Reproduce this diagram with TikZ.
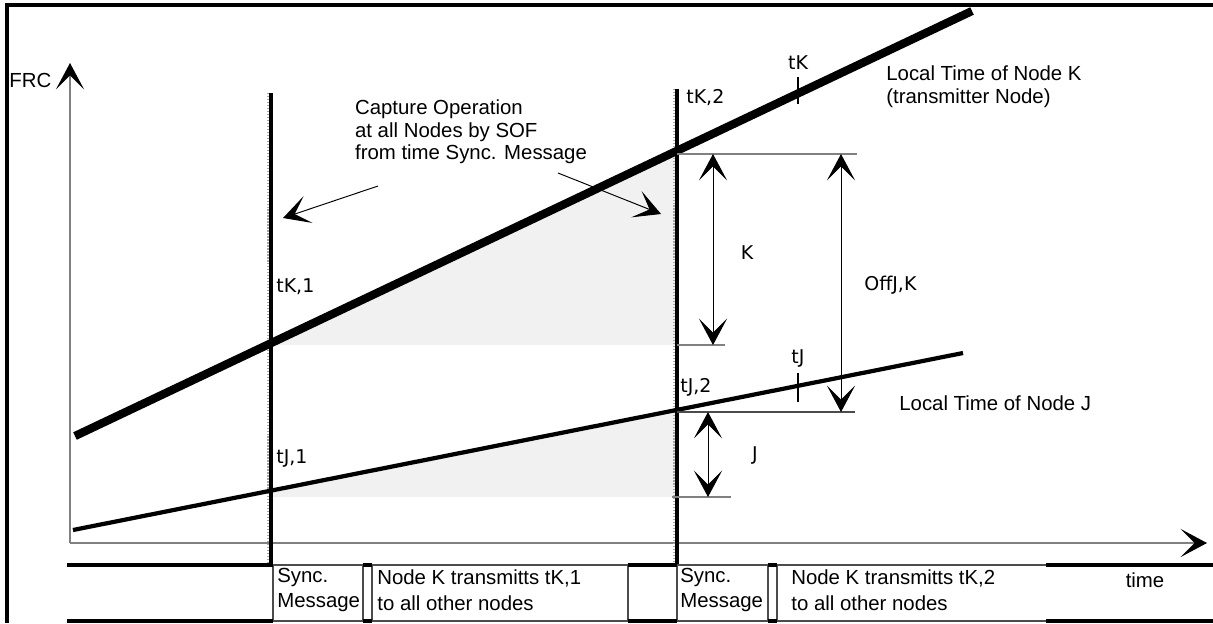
\documentclass[tikz,border=0pt]{standalone}
\usepackage{fontspec}
\setmainfont{Liberation Sans}
\newfontfamily\labelfont{DejaVu Sans}
\usetikzlibrary{arrows.meta}
\usetikzlibrary{positioning}

\definecolor{axisgray}{RGB}{128,128,128}
\definecolor{shadegray}{RGB}{241,241,241}

\tikzset{
  % the large notched arrow head used all over the drawing
  big head/.tip = {Stealth[length=15pt, width=16pt, inset=8pt, color=black]},
  frame line/.style = {
    draw = black,
    line width = 2.4pt
  },
  axis/.style = {
    draw = axisgray,
    line width = 0.8pt,
    -{big head}
  },
  % vertical line at a sync. message
  sync line/.style = {
    draw = black,
    line width = 2.1pt
  },
  sync shadow/.style = {
    draw = axisgray!70,
    line width = 0.7pt,
    densely dotted
  },
  % local clock of a node
  clock K/.style = {
    draw = black,
    line width = 4.7pt
  },
  clock J/.style = {
    draw = black,
    line width = 2.4pt
  },
  tick/.style = {
    draw = black,
    line width = 1.3pt
  },
  shade area/.style = {
    fill = shadegray
  }
}
\tikzset {
  % helper lines for the offsets
  dim line/.style = {
    draw = axisgray,
    line width = 0.8pt
  },
  % path style with a head at both ends
  dim arrow/.style = {
    draw = black,
    line width = 0.55pt,
    {big head}-{big head}
  },
  % path style with one head
  note arrow/.style = {
    draw = black,
    line width = 0.55pt,
    -{big head}
  },
  cell line/.style = {
    draw = black!70,
    line width = 0.7pt
  },
  cell bar/.style = {
    draw = black,
    line width = 2.3pt
  }
}
\tikzset {
  plain text/.style = {
    inner sep = 0pt,
    font = \fontsize{11.6}{12.9}\selectfont
  },
  cell text/.style = {
    plain text,
    align = left,
    font = \fontsize{11.6}{14.7}\selectfont
  },
  clock label/.style = {
    inner sep = 0pt,
    font = \labelfont\fontsize{10.8}{13}\selectfont
  }
}

\begin{document}
\begin{tikzpicture}[x=0.02cm, y=-0.02cm]
    \useasboundingbox (0,0) rectangle (1213,623);

    \coordinate (origin) at (70,543);
    \coordinate (frc-top) at (70,63);
    \coordinate (time-end) at (1207,543);

    \coordinate (sync-1-top) at (271,93);
    \coordinate (sync-1-bot) at (271,565);
    \coordinate (sync-2-top) at (677,89);
    \coordinate (sync-2-bot) at (677,565);

    \coordinate (k-start) at (75,436);
    \coordinate (k-end) at (972,11);
    \coordinate (j-start) at (73,530);
    \coordinate (j-end) at (963,353);

    \coordinate (k-1) at (intersection of k-start--k-end and sync-1-top--sync-1-bot);
    \coordinate (k-2) at (intersection of k-start--k-end and sync-2-top--sync-2-bot);
    \coordinate (j-1) at (intersection of j-start--j-end and sync-1-top--sync-1-bot);
    \coordinate (j-2) at (intersection of j-start--j-end and sync-2-top--sync-2-bot);
    \coordinate (j-floor) at (677,497);

    % gray areas
    \fill[shade area] (k-1) -- (k-2) -- (k-2 |- 0,345) -- (271,345) -- cycle;
    \fill[shade area] (j-1) -- (j-2) -- (j-floor) -- (j-floor -| j-1) -- cycle;

    % frame
    \draw[frame line] (7,623) -- (7,5) -- (1213,5);

    % axes
    \draw[axis] (origin) -- (frc-top);
    \draw[axis] (origin) -- (time-end);
    \node[plain text, anchor=west] (frc) at (9,80) {FRC};

    % sync lines
    \draw[sync shadow] ([xshift=-1.7pt]sync-1-top) -- ([xshift=-1.7pt]sync-1-bot);
    \draw[sync shadow] ([xshift=-1.7pt]sync-2-top) -- ([xshift=-1.7pt]sync-2-bot);
    \draw[sync line] (sync-1-top) -- (sync-1-bot);
    \draw[sync line] (sync-2-top) -- (sync-2-bot);

    % clocks
    \draw[clock K] (k-start) -- (k-end);
    \draw[clock J] (j-start) -- (j-end);

    \coordinate (tk-tick-top) at (798,77);
    \coordinate (tk-tick-bot) at (798,104);
    \coordinate (tj-tick-top) at (798,373);
    \coordinate (tj-tick-bot) at (798,402);
    \draw[tick] (tk-tick-top) -- (tk-tick-bot);
    \draw[tick] (tj-tick-top) -- (tj-tick-bot);
    \node[clock label] (tk) [above=4pt of tk-tick-top] {tK};
    \node[clock label] (tj) [above=3pt of tj-tick-top] {tJ};

    \node[clock label, anchor=west] (tk-1) at (276,287) {tK,1};
    \node[clock label, anchor=west] (tj-1) at (276,458) {tJ,1};
    \node[clock label, anchor=west] (tk-2) at (686,98) {tK,2};
    \node[clock label, anchor=west] (tj-2) at (680,387) {tJ,2};

    \node[plain text, anchor=west, align=left] (clock-k-name) at (886,87)
      {Local Time of Node K\\(transmitter Node)};
    \node[plain text, anchor=west] (clock-j-name) at (899,403) {Local Time of Node J};

    % capture note
    \node[plain text, align=left] (capture) at (471,132)
      {Capture Operation\\at all Nodes by SOF\\from time Sync. Message};
    \coordinate (capture-left) at (378,186);
    \coordinate (capture-right) at (558,173);
    \draw[note arrow] (capture-left) -- (283,218);
    \draw[note arrow] (capture-right) -- (661,214);

    % offsets
    \coordinate (k-dim-top) at (677,154);
    \coordinate (k-dim-bot) at (677,345);
    \coordinate (off-dim-bot) at (677,412);
    \coordinate (j-dim-bot) at (672,497);
    \draw[dim line] (k-dim-top) -- +(180,0);
    \draw[dim line] (k-dim-bot) -- +(48,0);
    \draw[cell line] (off-dim-bot) -- +(178,0);
    \draw[dim line] (j-dim-bot) -- +(59,0);

    \draw[dim arrow] (k-dim-top -| 713,0) -- (k-dim-bot -| 713,0);
    \draw[dim arrow] (k-dim-top -| 841,0) -- (off-dim-bot -| 841,0);
    \draw[dim arrow] (off-dim-bot -| 708,0) -- (j-dim-bot -| 708,0);
    \node[clock label] (k-offset) at (747,253) {K};
    \node[clock label, anchor=west] (off-jk) at (864,285) {OffJ,K};
    \node[clock label] (j-offset) at (755,455) {J};

    % message row
    \draw[cell line] (273,565) -- (1046,565);
    \draw[cell line] (273,621) -- (1046,621);
    \foreach \x in {273,363,372,628,677,768,777}
      \draw[cell line] (\x,565) -- (\x,621);
    \foreach \a/\b in {67/273,363/372,628/677,768/777,1046/1213} {
      \draw[cell bar] (\a,565) -- (\b,565);
      \draw[cell bar] (\a,621) -- (\b,621);
    }
    \node[cell text, anchor=west] (sync-msg-1) at (277,590) {Sync.\\Message};
    \node[cell text, anchor=west] (transmit-1) at (377,590)
      {Node K transmitts tK,1\\to all other nodes};
    \node[cell text, anchor=west] (sync-msg-2) at (680,590) {Sync.\\Message};
    \node[cell text, anchor=west] (transmit-2) at (791,590)
      {Node K transmitts tK,2\\to all other nodes};
    \node[plain text] (time) at (1145,580) {time};
\end{tikzpicture}
\end{document}
